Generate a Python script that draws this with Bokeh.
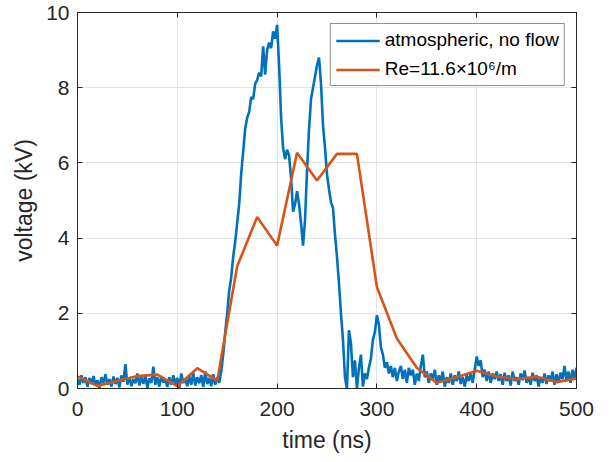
import numpy as np
from bokeh.plotting import figure
from bokeh.models import Range1d, FixedTicker, LinearAxis, Legend, LegendItem
from bokeh.embed import file_html
from bokeh.resources import INLINE

# ---- data ----
blue_t0, blue_dt = 0, 2  # ns sampling of the measured trace
blue_v = [
    0.25, 0.10, 0.35, 0.15, 0.30, 0.05, 0.28, 0.12, 0.33, 0.08,
    0.22, 0.02, 0.30, 0.15, 0.38, 0.10, 0.25, 0.05, 0.32, 0.12,
    0.28, 0.03, 0.35, 0.18, 0.65, 0.10, 0.30, 0.06, 0.25, 0.14,
    0.40, 0.08, 0.30, 0.12, 0.36, 0.02, 0.27, 0.15, 0.58, 0.10,
    0.30, 0.05, 0.33, 0.16, 0.24, 0.04, 0.30, 0.10, 0.35, 0.12,
    0.28, 0.02, 0.40, 0.15, 0.25, 0.06, 0.33, 0.10, 0.42, 0.08,
    0.30, 0.14, 0.36, 0.04, 0.45, 0.12, 0.28, 0.06, 0.38, 0.10,
    0.30, 0.15, 0.45, 0.90, 1.50, 2.00, 2.60, 2.95, 3.50, 3.90,
    4.40, 4.90, 5.70, 6.30, 6.90, 7.20, 7.35, 7.75, 7.70, 8.10,
    8.20, 8.40, 8.30, 9.10, 8.35, 9.00, 9.20, 9.05, 9.50, 9.30,
    9.67, 8.60, 7.20, 6.40, 6.10, 6.35, 6.20, 5.60, 4.70, 4.90,
    5.25, 4.90, 4.40, 3.80, 4.50, 5.80, 6.90, 7.70, 8.00, 8.30,
    8.60, 8.80, 8.10, 7.00, 6.40, 5.70, 5.30, 4.95, 4.80, 4.10,
    3.50, 2.80, 2.00, 1.30, 0.30, 0.00, 1.55, 1.20, 0.30, 0.75,
    0.00, 0.55, 0.90, 0.05, 0.40, 0.25, 0.55, 0.80, 1.30, 1.50,
    1.95, 1.70, 1.10, 0.90, 0.55, 0.70, 0.40, 0.60, 0.30, 0.55,
    0.20, 0.45, 0.60, 0.25, 0.50, 0.15, 0.55, 0.35, 0.50, 0.10,
    0.40, 0.20, 0.60, 0.90, 0.30, 0.45, 0.15, 0.40, 0.25, 0.50,
    0.10, 0.35, 0.20, 0.45, 0.05, 0.30, 0.15, 0.40, 0.10, 0.35,
    0.20, 0.45, 0.12, 0.30, 0.05, 0.35, 0.20, 0.40, 0.15, 0.50,
    0.85, 0.60, 0.75, 0.30, 0.50, 0.20, 0.45, 0.15, 0.40, 0.25,
    0.45, 0.20, 0.38, 0.10, 0.42, 0.20, 0.35, 0.08, 0.45, 0.20,
    0.30, 0.10, 0.40, 0.22, 0.48, 0.15, 0.30, 0.10, 0.42, 0.20,
    0.35, 0.05, 0.30, 0.15, 0.40, 0.12, 0.35, 0.20, 0.45, 0.10,
    0.38, 0.15, 0.42, 0.25, 0.60, 0.20, 0.45, 0.15, 0.50, 0.25,
    0.55,
]
blue_t = blue_t0 + blue_dt * np.arange(len(blue_v))

orange_t = [0, 20, 40, 60, 80, 100, 120, 140, 160, 180, 200, 220, 240,
            260, 280, 300, 320, 340, 360, 380, 400, 420, 440, 460, 480, 500]
orange_v = [0.32, 0.07, 0.20, 0.33, 0.37, 0.06, 0.54, 0.21, 3.25, 4.56,
            3.80, 6.27, 5.53, 6.24, 6.24, 2.70, 1.33, 0.55, 0.15, 0.30,
            0.47, 0.32, 0.25, 0.31, 0.17, 0.27]

x_ticks = [0, 100, 200, 300, 400, 500]
y_ticks = [0, 2, 4, 6, 8, 10]
x_label = "time (ns)"
y_label = "voltage (kV)"
series_names = ["atmospheric, no flow", "Re=11.6×10⁶/m"]

# ---- styling ----
FONT = "Liberation Sans"
AX = "#262626"
BLUE = "#0072BD"
ORANGE = "#D95319"

p = figure(width=605, height=455, x_range=Range1d(0, 500), y_range=Range1d(0, 10),
           output_backend="svg", toolbar_location=None,
           min_border_left=77, min_border_right=29, min_border_top=12, min_border_bottom=67,
           x_axis_label=x_label, y_axis_label=y_label)

p.outline_line_color = AX
p.outline_line_width = 1
p.background_fill_color = "white"
p.border_fill_color = "white"

for ax in (p.xaxis[0], p.yaxis[0]):
    ax.axis_line_color = AX
    ax.major_tick_line_color = AX
    ax.major_tick_in = 5
    ax.major_tick_out = 0
    ax.minor_tick_line_color = None
    ax.major_label_text_font = FONT
    ax.major_label_text_font_size = "21px"
    ax.major_label_text_color = AX
    ax.axis_label_text_font = FONT
    ax.axis_label_text_font_size = "23px"
    ax.axis_label_text_font_style = "normal"
    ax.axis_label_text_color = AX

p.xaxis[0].ticker = FixedTicker(ticks=x_ticks)
p.yaxis[0].ticker = FixedTicker(ticks=y_ticks)
p.xaxis[0].major_label_standoff = 13
p.xaxis[0].axis_label_standoff = 8
p.yaxis[0].major_label_standoff = 8
p.yaxis[0].axis_label_standoff = 6

# mirrored tick marks on top and right (box on)
top = LinearAxis(ticker=FixedTicker(ticks=x_ticks),
                 major_label_overrides={t: "" for t in x_ticks})
right = LinearAxis(ticker=FixedTicker(ticks=y_ticks),
                   major_label_overrides={t: "" for t in y_ticks})
for ax in (top, right):
    ax.axis_line_color = AX
    ax.major_tick_line_color = AX
    ax.major_tick_in = 5
    ax.major_tick_out = 0
    ax.minor_tick_line_color = None
    ax.major_label_standoff = 0
p.add_layout(top, "above")
p.add_layout(right, "right")

p.xgrid.ticker = FixedTicker(ticks=x_ticks)
p.ygrid.ticker = FixedTicker(ticks=y_ticks)
p.grid.grid_line_color = "#e3e3e3"
p.grid.grid_line_width = 1

r1 = p.line(blue_t, blue_v, line_color=BLUE, line_width=2.6)
r2 = p.line(orange_t, orange_v, line_color=ORANGE, line_width=2.6)

legend = Legend(items=[LegendItem(label=series_names[0], renderers=[r1]),
                       LegendItem(label=series_names[1], renderers=[r2])],
                location="top_right", margin=11, padding=5, spacing=7,
                glyph_width=44, glyph_height=21, label_height=21, label_standoff=5,
                label_text_font=FONT, label_text_font_size="19px", label_text_color="black",
                border_line_color=AX, border_line_width=1,
                background_fill_color="white", background_fill_alpha=1)
p.add_layout(legend)

open("out.html", "w").write(file_html(p, INLINE))
